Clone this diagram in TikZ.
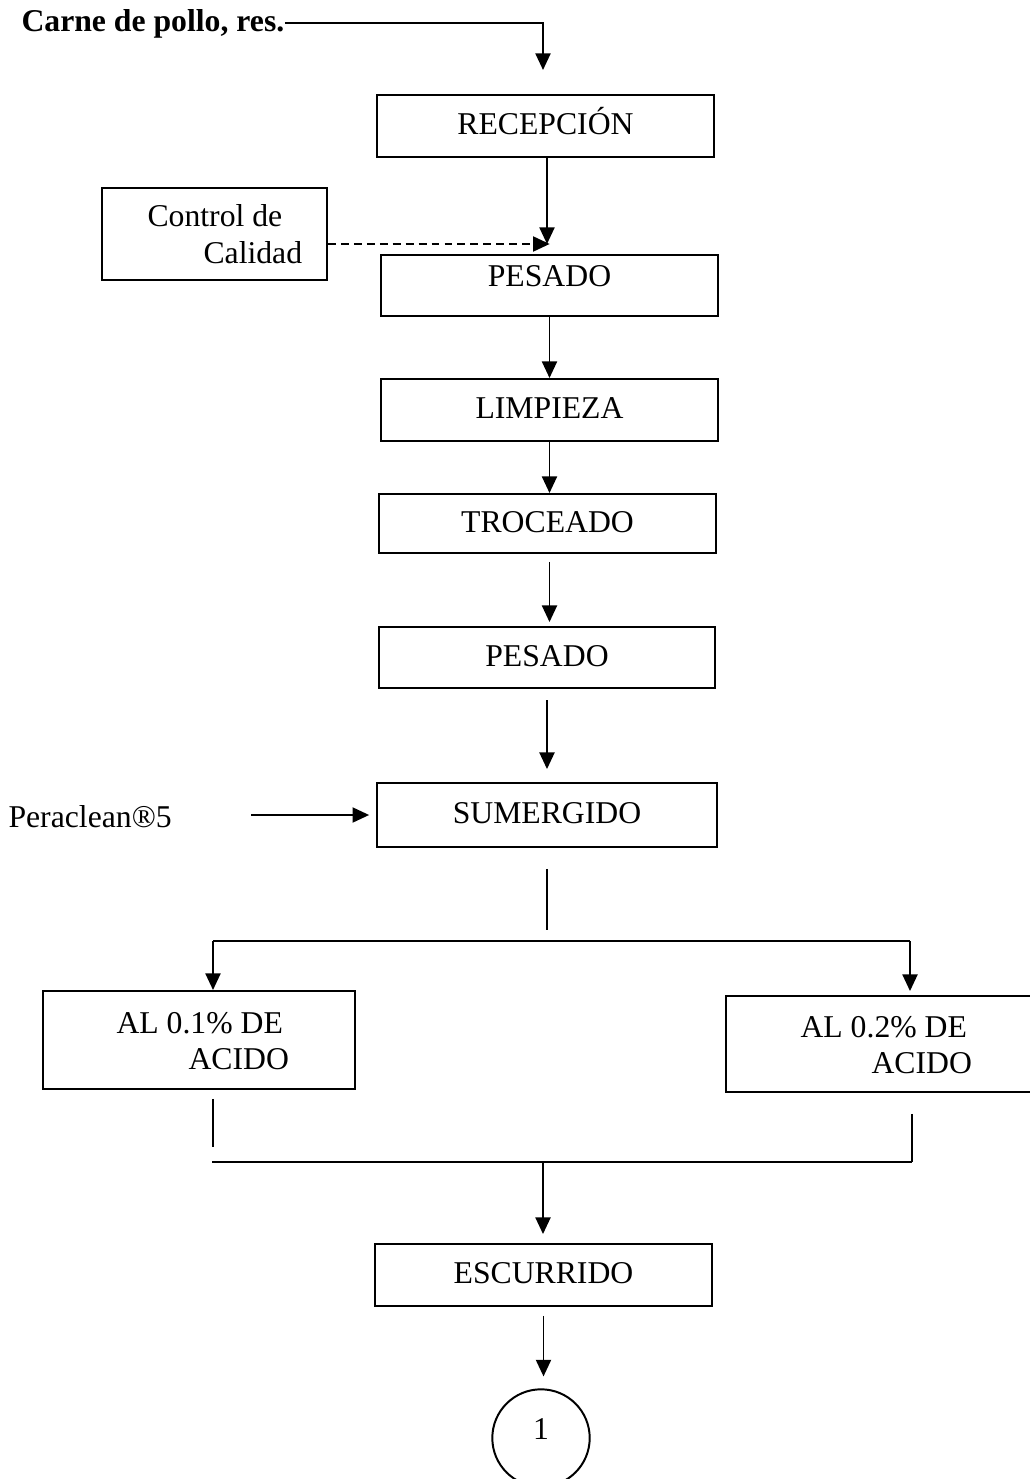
\documentclass[tikz,border=0pt]{standalone}
\usepackage{fontspec}
\setmainfont{Liberation Serif}
\usetikzlibrary{arrows.meta}
\begin{document}
\begin{tikzpicture}[x=0.3785pt,y=-0.3785pt,
  every node/.style={font=\fontsize{12pt}{14pt}\selectfont, inner sep=0pt},
  lw/.style={line width=0.75pt},
  procbox/.style 2 args={draw, lw, minimum width=#1*0.3785pt, minimum height=#2*0.3785pt, text height=0.662em, text depth=0pt},
  arr/.style={lw, -{Triangle[length=6.3pt,width=5.7pt]}},
  conn/.style={lw},
  dasharr/.style={arr, dash pattern=on 3pt off 1.9pt}]
\fill[white] (0,0) rectangle (1029,1479);
\useasboundingbox (0,0) rectangle (1029,1479);

% input text
\node[anchor=base west, font=\fontsize{12pt}{14pt}\selectfont\bfseries] (carne) at (21,32) {Carne de pollo, res.};
\coordinate (in1) at (543,70);

% process boxes
\node[procbox={337}{62}] (recep) at (545.5,126) {RECEPCIÓN};
\node[procbox={225}{92}] (ctrl) at (214.5,234) {};
\node[anchor=base west] (ctrlA) at (147,227) {Control de};
\node[anchor=base west] (ctrlB) at (203,264) {Calidad};
\node[procbox={337}{61}, text depth=6pt] (pes1) at (549.5,285.5) {PESADO};
\node[procbox={337}{62}] (limp) at (549.5,410) {LIMPIEZA};
\node[procbox={337}{59}] (troc) at (547.5,523.5) {TROCEADO};
\node[procbox={336}{61}] (pes2) at (547,657.5) {PESADO};
\node[anchor=base west] (pera) at (8,827) {Peraclean®5};
\node[procbox={340}{64}] (sum) at (547,815) {SUMERGIDO};
\node[procbox={312}{98}] (a1) at (199,1040) {};
\node[anchor=base west] (a1A) at (116,1033) {AL 0.1\% DE};
\node[anchor=base west] (a1B) at (188,1069) {ACIDO};
\node[procbox={309}{96}] (a2) at (880.5,1044) {};
\node[anchor=base west] (a2A) at (800,1037) {AL 0.2\% DE};
\node[anchor=base west] (a2B) at (871,1073) {ACIDO};
\node[procbox={337}{62}] (esc) at (543.5,1275) {ESCURRIDO};
\node[draw, lw, circle, minimum size=97.4*0.3785pt] (circ) at (541,1438) {};
\node (one) at (541,1429.5) {1};

% junction coordinates
\coordinate (j1) at (547,244);
\coordinate (s1) at (547,930);
\coordinate (bl) at (213,941);
\coordinate (br) at (910,941);
\coordinate (m1) at (213,1147);
\coordinate (ml) at (212,1162);
\coordinate (mr) at (912,1162);
\coordinate (mm) at (543,1162);

% connectors
\draw[arr] ([yshift=9*0.3785pt]carne.base east) -| (in1);
\draw[arr] (recep.south -| j1) -- (j1);
\draw[dasharr] (ctrl.east |- j1) -- ([xshift=1pt]j1);
\draw[arr] (pes1.south) -- (pes1.south |- limp.north);
\draw[arr] (limp.south) -- (limp.south |- troc.north);
\draw[arr, shorten <=3pt, shorten >=1.5pt] (troc.south -| pes1.south) -- (pes1.south |- pes2.north);
\draw[arr, shorten <=4.2pt, shorten >=4.9pt] (pes2.south) -- (pes2.south |- sum.north);
\draw[arr, shorten <=29.9pt, shorten >=2.6pt] (pera.east |- sum.west) -- (sum.west);
\draw[conn, shorten <=7.9pt] (sum.south) -- (s1);
\draw[conn] (bl) -- (br);
\draw[arr] (bl) -- (bl |- a1.north);
\draw[arr, shorten >=1.5pt] (br) -- (br |- a2.north);
\draw[conn, shorten <=3.4pt] (m1 |- a1.south) -- (m1);
\draw[conn] (ml) -- (mr);
\draw[conn, shorten <=7.9pt] (mr |- a2.south) -- (mr);
\draw[arr, shorten >=3.4pt] (mm) -- (mm |- esc.north);
\draw[arr, shorten <=3.4pt, shorten >=4.5pt] (esc.south) -- (esc.south |- circ.north);
\end{tikzpicture}
\end{document}
